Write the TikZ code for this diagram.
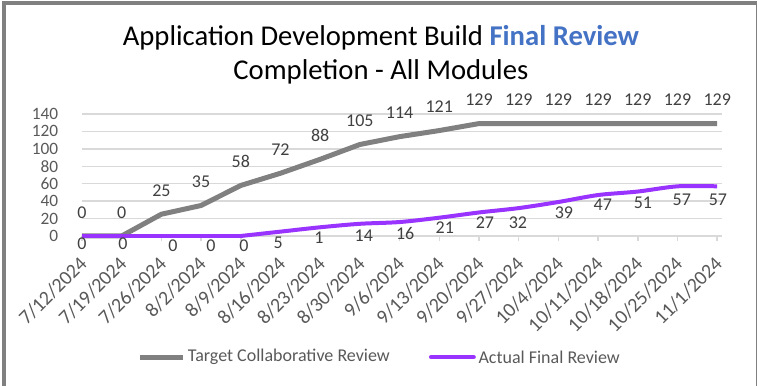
\documentclass[tikz,border=0pt]{standalone}
\usepackage{fontspec}
\setmainfont{Carlito}
\definecolor{targetgray}{RGB}{128, 128, 128}
\definecolor{actualviolet}{RGB}{153, 51, 255}
\definecolor{gridgray}{RGB}{217, 217, 217}
\definecolor{axisgray}{RGB}{89, 89, 89}
\definecolor{datagray}{RGB}{64, 64, 64}
\definecolor{titleblue}{RGB}{68, 114, 196}
\usepackage{tikz}
\usetikzlibrary{positioning}

\begin{document}
\begin{tikzpicture}[x=29.775pt, y=0.6536pt,
  ylab/.style={font=\fontsize{13}{15}\selectfont, text=axisgray, anchor=east},
  datelab/.style={font=\fontsize{15}{18}\selectfont, text=axisgray, rotate=45, anchor=east},
  tlab/.style={font=\fontsize{13.5}{16}\selectfont, text=datagray, yshift=17.8pt},
  alab/.style={font=\fontsize{13.5}{16}\selectfont, text=datagray},
  legtext/.style={font=\fontsize{13.5}{16}\selectfont, text=axisgray},
  titletext/.style={font=\fontsize{21.5}{26}\selectfont}]
  \useasboundingbox (-2.065, -172.1) rectangle (17.003, 270.8);

  % Frame
  \draw[targetgray, line width=3pt] (-1.965, -220) rectangle (17.04, 267.4);

  % Title
  \node[titletext] (title1) at (7.53, 227.2) {Application Development Build \textcolor{titleblue}{\textbf{Final Review}}};
  \node[titletext] (title2) at (7.53, 188.2) {Completion - All Modules};

  % Grid
  \draw[gridgray, line width=1.1pt] (0, 20) -- (16.12, 20);
  \draw[gridgray, line width=1.1pt] (0, 40) -- (16.12, 40);
  \draw[gridgray, line width=1.1pt] (0, 60) -- (16.12, 60);
  \draw[gridgray, line width=1.1pt] (0, 80) -- (16.12, 80);
  \draw[gridgray, line width=1.1pt] (0, 100) -- (16.12, 100);
  \draw[gridgray, line width=1.1pt] (0, 120) -- (16.12, 120);
  \draw[gridgray, line width=1.1pt] (0, 140) -- (16.12, 140);

  % Category axis and ticks
  \draw[gridgray, line width=1.1pt] (0, 0) -- (16.12, 0);
  \draw[gridgray, line width=1.1pt] (0, 0) -- (0, -5.7) (1, 0) -- (1, -5.7) (2, 0) -- (2, -5.7)
    (3, 0) -- (3, -5.7) (4, 0) -- (4, -5.7) (5, 0) -- (5, -5.7) (6, 0) -- (6, -5.7)
    (7, 0) -- (7, -5.7) (8, 0) -- (8, -5.7) (9, 0) -- (9, -5.7) (10, 0) -- (10, -5.7)
    (11, 0) -- (11, -5.7) (12, 0) -- (12, -5.7) (13, 0) -- (13, -5.7) (14, 0) -- (14, -5.7)
    (15, 0) -- (15, -5.7) (16, 0) -- (16, -5.7);

  % Value labels
  \node[ylab] (y0) at (-0.479, 0) {0};
  \node[ylab] (y20) at (-0.479, 20) {20};
  \node[ylab] (y40) at (-0.479, 40) {40};
  \node[ylab] (y60) at (-0.479, 60) {60};
  \node[ylab] (y80) at (-0.479, 80) {80};
  \node[ylab] (y100) at (-0.479, 100) {100};
  \node[ylab] (y120) at (-0.479, 120) {120};
  \node[ylab] (y140) at (-0.479, 140) {140};

  % Date labels
  \node[datelab] (d0) at (0.12, -24) {7/12/2024};
  \node[datelab] (d1) at (1.12, -24) {7/19/2024};
  \node[datelab] (d2) at (2.12, -24) {7/26/2024};
  \node[datelab] (d3) at (3.12, -24) {8/2/2024};
  \node[datelab] (d4) at (4.12, -24) {8/9/2024};
  \node[datelab] (d5) at (5.12, -24) {8/16/2024};
  \node[datelab] (d6) at (6.12, -24) {8/23/2024};
  \node[datelab] (d7) at (7.12, -24) {8/30/2024};
  \node[datelab] (d8) at (8.12, -24) {9/6/2024};
  \node[datelab] (d9) at (9.12, -24) {9/13/2024};
  \node[datelab] (d10) at (10.12, -24) {9/20/2024};
  \node[datelab] (d11) at (11.12, -24) {9/27/2024};
  \node[datelab] (d12) at (12.12, -24) {10/4/2024};
  \node[datelab] (d13) at (13.12, -24) {10/11/2024};
  \node[datelab] (d14) at (14.12, -24) {10/18/2024};
  \node[datelab] (d15) at (15.12, -24) {10/25/2024};
  \node[datelab] (d16) at (16.12, -24) {11/1/2024};

  % Target line
  \draw[targetgray, line width=3.75pt, line join=round] (0, 0) -- (1, 0) -- (2, 25) -- (3, 35) -- (4, 58)
    -- (5, 72) -- (6, 88) -- (7, 105) -- (8, 114) -- (9, 121) -- (10, 129) -- (16, 129);

  % Actual line
  \draw[actualviolet, line width=3pt] (0, 0) -- (4, 0);
  \draw[actualviolet, line width=3pt] plot[smooth, tension=0.5] coordinates {(4, 0) (5, 5) (6, 10)
    (7, 14) (8, 16) (9, 21) (10, 27) (11, 32) (12, 39) (13, 47) (14, 51) (15, 57) (16, 57)};

  % Target labels
  \node[tlab] (t0) at (0, 0) {0};
  \node[tlab] (t1) at (1, 0) {0};
  \node[tlab] (t2) at (2, 25) {25};
  \node[tlab] (t3) at (3, 35) {35};
  \node[tlab] (t4) at (4, 58) {58};
  \node[tlab] (t5) at (5, 72) {72};
  \node[tlab] (t6) at (6, 88) {88};
  \node[tlab] (t7) at (7, 105) {105};
  \node[tlab] (t8) at (8, 114) {114};
  \node[tlab] (t9) at (9, 121) {121};
  \node[tlab] (t10) at (10, 129) {129};
  \node[tlab] (t11) at (11, 129) {129};
  \node[tlab] (t12) at (12, 129) {129};
  \node[tlab] (t13) at (13, 129) {129};
  \node[tlab] (t14) at (14, 129) {129};
  \node[tlab] (t15) at (15, 129) {129};
  \node[tlab] (t16) at (16, 129) {129};

  % Actual labels
  \node[alab] (a0) at (0, -9.2) {0};
  \node[alab] (a1) at (1.03, -9.2) {0};
  \node[alab] (a2) at (2.29, -11.5) {0};
  \node[alab] (a3) at (3.25, -11.5) {0};
  \node[alab] (a4) at (4.08, -11.5) {0};
  \node[alab] (a5) at (4.94, -8) {5};
  \node[alab] (a6) at (5.97, -2.3) {1};
  \node[alab] (a7) at (7.1, 0) {14};
  \node[alab] (a8) at (8.14, 3.4) {16};
  \node[alab] (a9) at (9.14, 9.2) {21};
  \node[alab] (a10) at (10.15, 14.9) {27};
  \node[alab] (a11) at (10.98, 14.9) {32};
  \node[alab] (a12) at (12.14, 26.4) {39};
  \node[alab] (a13) at (13.12, 35.6) {47};
  \node[alab] (a14) at (14.13, 37.9) {51};
  \node[alab] (a15) at (15.11, 41.3) {57};
  \node[alab] (a16) at (16.02, 41.3) {57};

  % Legend
  \coordinate (tgA) at (1.46, -138.9);
  \coordinate (tgB) at (2.55, -138.9);
  \draw[targetgray, line width=3.75pt] (tgA) -- (tgB);
  \node[legtext, right=0pt of tgB] (tgtext) {Target Collaborative Review};
  \coordinate (acA) at (8.79, -138.9);
  \coordinate (acB) at (9.87, -138.9);
  \draw[actualviolet, line width=3pt, line cap=round] (acA) -- (acB);
  \node[legtext, right=0pt of acB] (actext) {Actual Final Review};
\end{tikzpicture}
\end{document}
